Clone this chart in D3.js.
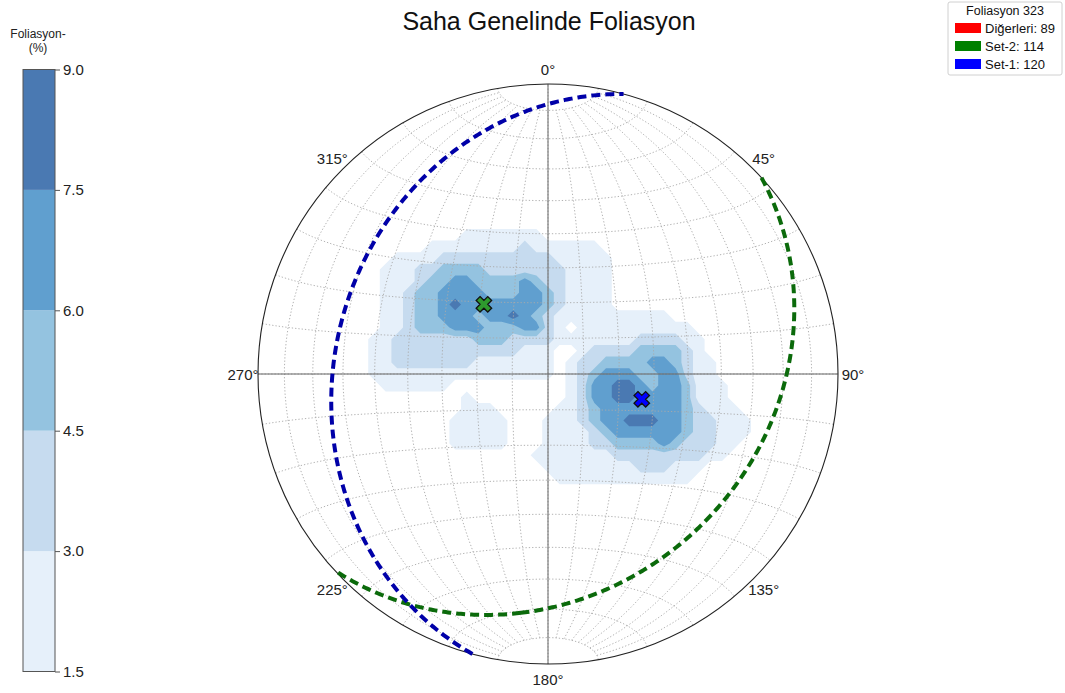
<!DOCTYPE html>
<html>
<head>
<meta charset="utf-8">
<script src="https://cdn.jsdelivr.net/npm/d3@7"></script>
<style>
  body { margin: 0; background: #fff; }
  text { font-family: "Liberation Sans", Arial, Helvetica, sans-serif; }
</style>
</head>
<body>
<svg id="chart" width="1065" height="693"></svg>
<script>
// ---------------- data ----------------
const chartTitle = "Saha Genelinde Foliasyon";
const legendTitle = "Foliasyon 323";
const setNames = ["Diğerleri", "Set-2", "Set-1"];
const setCounts = [89, 114, 120];

// mean poles of the two sets (trend / plunge, degrees, lower hemisphere)
const poleSets = ["Set-2", "Set-1"];
const poleTrend = [317.4, 105.1];
const polePlunge = [63.3, 62.6];

// colour-bar levels (% density) and azimuth labels
const densityLevels = [1.5, 3.0, 4.5, 6.0, 7.5, 9.0];
const azimuthTicks = [0, 45, 90, 135, 180, 225, 270, 315];

// density grid on the projected net (x right, y up, in units of the net radius)
// each digit is the contour band of the node: 0 <1.5 %, 1 1.5–3 %, 2 3–4.5 %,
// 3 4.5–6 %, 4 6–7.5 %, 5 7.5–9 %
const gridX0 = -0.64, gridY0 = 0.56, gridStep = 0.04;
const densityRows = [
  "000000000000000000000000000000000000",
  "000000000000000000000000000000000000",
  "000000000111111100000000000000000000",
  "000000111111112111111000000000000000",
  "000111122222222221111100000000000000",
  "001112233332222222111100000000000000",
  "001112334433334322111100000000000000",
  "001123344443334432111100000000000000",
  "001123345444444432111100000000000000",
  "001123344434454321111111111000000000",
  "001123334443334421011111111110000000",
  "011222222233322221111111222211000000",
  "011222222222221110012222333321000000",
  "011222222211111110122333344321100000",
  "011111111111111110123444334421100000",
  "001111110000000000124455434431110000",
  "000000000100000000124455444431110000",
  "000000000111000001123444444432111000",
  "000000001111100011123445554432211100",
  "000000001111100011112344444432211100",
  "000000001111100011112233334322211000",
  "000000000000000111111122222222110000",
  "000000000000000011111111222111000000",
  "000000000000000001111111111110000000",
  "000000000000000000000000000000000000",
  "000000000000000000000000000000000000"
];

// ---------------- layout ----------------
const svg = d3.select("#chart");
const cx = 548, cy = 374, R = 290;
const fontFam = '"Liberation Sans", Arial, sans-serif';
const bandColors = ["#e6f0fa", "#c6dbef", "#94c3e0", "#609fcf", "#4a79b2"];

const projection = d3.geoAzimuthalEqualArea()
  .rotate([0, 0])
  .clipAngle(90)
  .scale(R / Math.SQRT2)
  .translate([cx, cy])
  .precision(0.1);
const geoPath = d3.geoPath(projection);

// line orientation -> position on the net sphere
function lineToLonLat(trend, plunge) {
  const t = trend * Math.PI / 180, p = plunge * Math.PI / 180;
  const x = Math.sin(p), y = Math.cos(p) * Math.sin(t), z = Math.cos(p) * Math.cos(t);
  return [Math.atan2(y, x) * 180 / Math.PI, Math.asin(z) * 180 / Math.PI];
}

// ---------------- title ----------------
svg.append("text")
  .attr("x", cx + 1).attr("y", 30)
  .attr("text-anchor", "middle")
  .attr("font-size", 25).attr("fill", "#111")
  .text(chartTitle);

// ---------------- density contours ----------------
svg.append("clipPath").attr("id", "netClip")
  .append("circle").attr("cx", cx).attr("cy", cy).attr("r", R);

const nx = densityRows[0].length, ny = densityRows.length;
const values = [];
densityRows.forEach(row => {
  for (const ch of row) {
    const k = +ch;
    values.push(k === 0 ? densityLevels[0] / 2 : densityLevels[k - 1] + 0.75);
  }
});
const netX = d3.scaleLinear().domain([-1, 1]).range([cx - R, cx + R]);
const netY = d3.scaleLinear().domain([-1, 1]).range([cy + R, cy - R]);
const gridPath = d3.geoPath(d3.geoTransform({
  point(x, y) {
    this.stream.point(netX(gridX0 + (x - 0.5) * gridStep), netY(gridY0 - (y - 0.5) * gridStep));
  }
}));
const bands = d3.contours().size([nx, ny]).thresholds(densityLevels.slice(0, 5))(values);
svg.append("g").attr("clip-path", "url(#netClip)")
  .selectAll("path").data(bands).join("path")
  .attr("d", gridPath)
  .attr("fill", (d, i) => bandColors[i])
  .attr("stroke", "none");

// ---------------- net grid ----------------
svg.append("path")
  .datum(d3.geoGraticule()())
  .attr("d", geoPath)
  .attr("fill", "none")
  .attr("stroke", "#a9a9a9")
  .attr("stroke-width", 0.9)
  .attr("stroke-dasharray", "1.3,2");

svg.append("line").attr("x1", cx - R).attr("x2", cx + R).attr("y1", cy).attr("y2", cy)
  .attr("stroke", "#666").attr("stroke-width", 1);
svg.append("line").attr("x1", cx).attr("x2", cx).attr("y1", cy - R).attr("y2", cy + R)
  .attr("stroke", "#666").attr("stroke-width", 1);
svg.append("circle").attr("cx", cx).attr("cy", cy).attr("r", R)
  .attr("fill", "none").attr("stroke", "#222").attr("stroke-width", 1.1);

// azimuth labels
svg.append("g").selectAll("text").data(azimuthTicks).join("text")
  .attr("x", d => cx + (R + 15) * Math.sin(d * Math.PI / 180))
  .attr("y", d => cy - (R + 15) * Math.cos(d * Math.PI / 180))
  .attr("text-anchor", "middle")
  .attr("dominant-baseline", "central")
  .attr("font-size", 15).attr("fill", "#222")
  .text(d => d + "°");

// ---------------- mean planes (great circles) and poles ----------------
const setStroke = { "Set-1": "#0000a8", "Set-2": "#0b6a0b" };
const poleFill = { "Set-1": "#0000ff", "Set-2": "#2e9a2e" };

poleSets.forEach((name, i) => {
  const pole = lineToLonLat(poleTrend[i], polePlunge[i]);
  const ring = d3.geoCircle().center(pole).radius(90).precision(0.5)().coordinates[0];
  svg.append("path")
    .datum({ type: "LineString", coordinates: ring })
    .attr("d", geoPath)
    .attr("fill", "none")
    .attr("stroke", setStroke[name])
    .attr("stroke-width", 4)
    .attr("stroke-dasharray", "9,5");
});

poleSets.forEach((name, i) => {
  const [px, py] = projection(lineToLonLat(poleTrend[i], polePlunge[i]));
  svg.append("path")
    .attr("d", d3.symbol(d3.symbolCross, 150)())
    .attr("transform", `translate(${px},${py}) rotate(45)`)
    .attr("fill", poleFill[name])
    .attr("stroke", "#111")
    .attr("stroke-width", 1.3);
});

// ---------------- colour bar ----------------
const cbX = 23, cbW = 32, cbTop = 69.5, cbBottom = 671.5;
const cbScale = d3.scaleLinear().domain([densityLevels[0], densityLevels[densityLevels.length - 1]])
  .range([cbBottom, cbTop]);
const cb = svg.append("g");
cb.selectAll("rect").data(d3.range(densityLevels.length - 1)).join("rect")
  .attr("x", cbX).attr("width", cbW)
  .attr("y", i => cbScale(densityLevels[i + 1]))
  .attr("height", i => cbScale(densityLevels[i]) - cbScale(densityLevels[i + 1]))
  .attr("fill", i => bandColors[i]);
cb.append("rect").attr("x", cbX).attr("y", cbTop).attr("width", cbW).attr("height", cbBottom - cbTop)
  .attr("fill", "none").attr("stroke", "#555").attr("stroke-width", 1);
const cbAxis = cb.append("g").attr("transform", `translate(${cbX + cbW},0)`)
  .call(d3.axisRight(cbScale).tickValues(densityLevels).tickFormat(d3.format(".1f")).tickSize(5).tickPadding(3));
cbAxis.select(".domain").remove();
cbAxis.selectAll("line").attr("stroke", "#555");
cbAxis.selectAll("text").attr("font-size", 15).attr("font-family", fontFam).attr("fill", "#222");

cb.append("text").attr("x", 38).attr("y", 38).attr("text-anchor", "middle")
  .attr("font-size", 12).attr("fill", "#222").text("Foliasyon-");
cb.append("text").attr("x", 38).attr("y", 52).attr("text-anchor", "middle")
  .attr("font-size", 12).attr("fill", "#222").text("(%)");

// ---------------- legend ----------------
const legendColors = { "Diğerleri": "#ff0000", "Set-2": "#008000", "Set-1": "#0000ff" };
const lg = svg.append("g").attr("transform", "translate(948,2)");
lg.append("rect").attr("width", 114).attr("height", 73).attr("rx", 2)
  .attr("fill", "#fff").attr("stroke", "#d0d0d0");
lg.append("text").attr("x", 57).attr("y", 13).attr("text-anchor", "middle")
  .attr("font-size", 12.5).attr("fill", "#111").text(legendTitle);
const items = lg.selectAll("g.item").data(setNames).join("g")
  .attr("class", "item")
  .attr("transform", (d, i) => `translate(7,${21 + i * 18})`);
items.append("rect").attr("width", 26).attr("height", 10).attr("fill", d => legendColors[d]);
items.append("text").attr("x", 30).attr("y", 10).attr("font-size", 13).attr("fill", "#111")
  .text((d, i) => `${d}: ${setCounts[i]}`);
</script>
</body>
</html>
